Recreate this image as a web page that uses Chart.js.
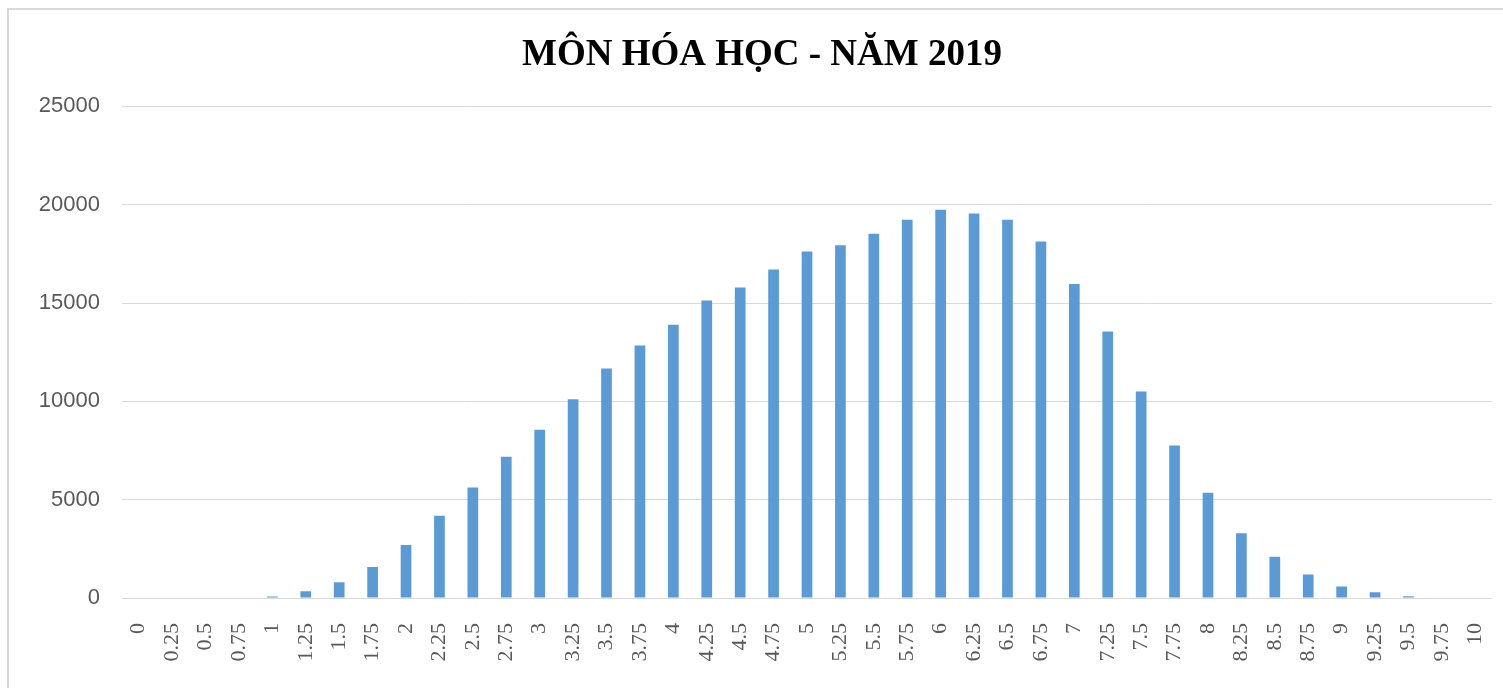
<!DOCTYPE html>
<html>
<head>
<meta charset="utf-8">
<script src="https://cdn.jsdelivr.net/npm/chart.js@4"></script>
<style>
  html, body { margin: 0; padding: 0; background: #fff; overflow: hidden; }
  #wrap { position: relative; width: 1503px; height: 688px; overflow: hidden; }
  #frame { position: absolute; left: 7px; top: 8px; width: 1520px; height: 700px;
           border-top: 2px solid #d9d9d9; border-left: 2px solid #d9d9d9; box-sizing: border-box; }
  canvas { position: absolute; left: 0; top: 0; }
</style>
</head>
<body>
<div id="wrap">
  <div id="frame"></div>
  <canvas id="c" width="1503" height="688"></canvas>
</div>
<script>
const titleText = "MÔN HÓA HỌC - NĂM 2019";
const categories = ["0","0.25","0.5","0.75","1","1.25","1.5","1.75","2","2.25","2.5","2.75","3","3.25","3.5","3.75","4","4.25","4.5","4.75","5","5.25","5.5","5.75","6","6.25","6.5","6.75","7","7.25","7.5","7.75","8","8.25","8.5","8.75","9","9.25","9.5","9.75","10"];
const counts = [0,0,0,0,70,340,800,1575,2690,4180,5625,7180,8550,10110,11670,12840,13890,15130,15790,16700,17620,17940,18530,19240,19750,19550,19240,18130,15970,13550,10500,7760,5350,3290,2100,1200,590,290,85,0,0];
const yMin = 0, yMax = 25000, yStep = 5000;

new Chart(document.getElementById('c'), {
  type: 'bar',
  data: {
    labels: categories,
    datasets: [{
      data: counts,
      backgroundColor: '#5B9BD5',
      borderWidth: 0,
      barPercentage: 0.32,
      categoryPercentage: 1.0
    }]
  },
  options: {
    responsive: false,
    animation: false,
    layout: { padding: { left: 32, right: 11, top: 0, bottom: 0 } },
    plugins: {
      legend: { display: false },
      tooltip: { enabled: false },
      title: {
        display: true,
        text: titleText,
        color: '#000',
        font: { family: 'Liberation Serif', size: 37, weight: 'bold', lineHeight: 1.2 },
        padding: { top: 33, bottom: 29 }
      }
    },
    scales: {
      x: {
        grid: { display: false, drawTicks: false },
        border: { display: false },
        ticks: {
          color: '#595959',
          font: { family: 'Liberation Serif', size: 22 },
          minRotation: 90, maxRotation: 90,
          autoSkip: false,
          padding: 25
        },
        afterFit: (s) => { s.height = 90; s.paddingLeft = 0; s.paddingRight = 0; }
      },
      y: {
        min: yMin, max: yMax,
        grid: { color: '#d9d9d9', lineWidth: 1, drawTicks: false },
        border: { display: false },
        ticks: {
          stepSize: yStep,
          color: '#595959',
          font: { family: 'Liberation Sans', size: 22 },
          padding: 22,
          callback: (v) => String(v)
        },
        afterFit: (s) => { s.width = 90; }
      }
    }
  }
});
</script>
</body>
</html>
